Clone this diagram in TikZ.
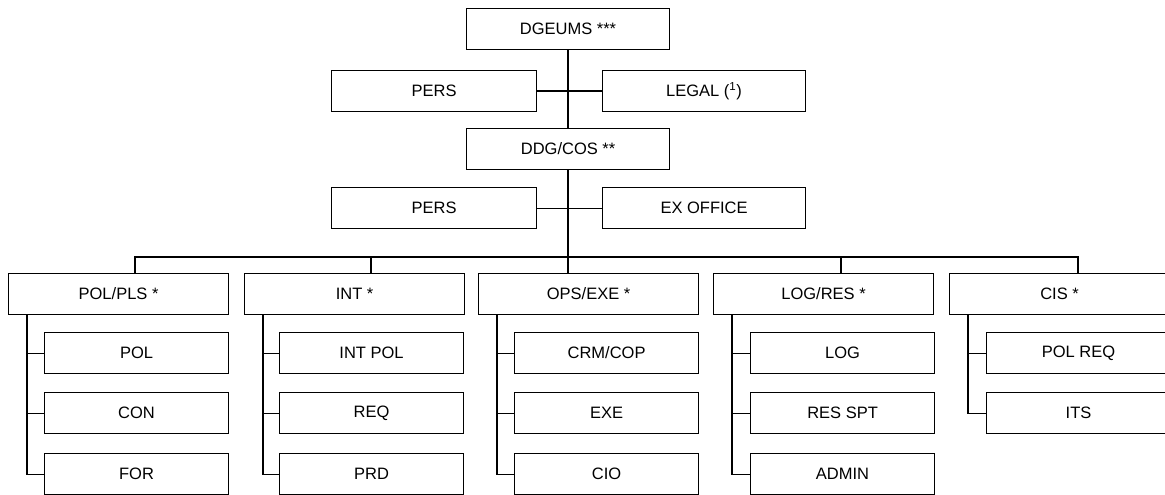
\documentclass[tikz,border=0pt]{standalone}
\usepackage{fontspec}
\setmainfont{Liberation Sans}
\begin{document}
\begin{tikzpicture}[x=1pt,y=-1pt,
  every node/.style={font=\fontsize{16.5}{19}\selectfont},
  box/.style={draw,line width=1.1pt,minimum height=41pt,inner sep=0pt,anchor=north west},
  topbox/.style={box,minimum width=203pt},
  colbox/.style={box,minimum width=220pt},
  subbox/.style={box,minimum width=184pt},
  conn/.style={line width=1.1pt}]
\useasboundingbox (0,0) rectangle (1165,495);
% top part
\node[topbox] (dg) at (466,8) {DGEUMS ***};
\node[topbox,minimum width=205pt] (pers1) at (331,70) {PERS};
\node[topbox] (legal) at (602,70) {LEGAL (\textsuperscript{1})};
\node[topbox] (ddg) at (466,128) {DDG/COS **};
\node[topbox,minimum width=205pt] (pers2) at (331,187) {PERS};
\node[topbox] (exo) at (602,187) {EX OFFICE};
% columns
\node[colbox] (c1) at (8,273) {POL/PLS *};
\node[colbox] (c2) at (244,273) {INT *};
\node[colbox] (c3) at (478,273) {OPS/EXE *};
\node[colbox] (c4) at (713,273) {LOG/RES *};
\node[colbox] (c5) at (949,273) {CIS *};
% children
\node[subbox] (c1a) at (44,332) {POL};
\node[subbox] (c1b) at (44,392) {CON};
\node[subbox] (c1c) at (44,453) {FOR};
\node[subbox] (c2a) at (279,332) {INT POL};
\node[subbox] (c2b) at (279,392) {REQ};
\node[subbox] (c2c) at (279,453) {PRD};
\node[subbox] (c3a) at (514,332) {CRM/COP};
\node[subbox] (c3b) at (514,392) {EXE};
\node[subbox] (c3c) at (514,453) {CIO};
\node[subbox] (c4a) at (750,332) {LOG};
\node[subbox] (c4b) at (750,392) {RES SPT};
\node[subbox] (c4c) at (750,453) {ADMIN};
\node[subbox] (c5a) at (986,332) {POL REQ};
\node[subbox] (c5b) at (986,392) {ITS};
% coordinates
\coordinate (trunk) at (568,0);
\coordinate (busL) at (135,257);
\coordinate (busR) at (1078,257);
\coordinate (d2) at (371,257);
\coordinate (d4) at (841,257);
% connectors
\draw[conn] (dg.south -| trunk) -- (ddg.north -| trunk);
\draw[conn] (pers1.east) -- (legal.west);
\draw[conn] (pers2.east) -- (exo.west);
\draw[conn] (ddg.south -| trunk) -- (c3.north -| trunk);
\draw[conn] (c1.north -| busL) -- (busL) -- (busR) -- (c5.north -| busR);
\draw[conn] (d2) -- (c2.north -| d2);
\draw[conn] (d4) -- (c4.north -| d4);
\foreach \c in {1,2,3,4}{
  \coordinate (s\c) at ([xshift=19pt]c\c.south west);
  \draw[conn] (s\c) |- (c\c c.west);
  \draw[conn] (s\c |- c\c a.west) -- (c\c a.west);
  \draw[conn] (s\c |- c\c b.west) -- (c\c b.west);
}
\coordinate (s5) at ([xshift=19pt]c5.south west);
\draw[conn] (s5) |- (c5b.west);
\draw[conn] (s5 |- c5a.west) -- (c5a.west);
\end{tikzpicture}
\end{document}
